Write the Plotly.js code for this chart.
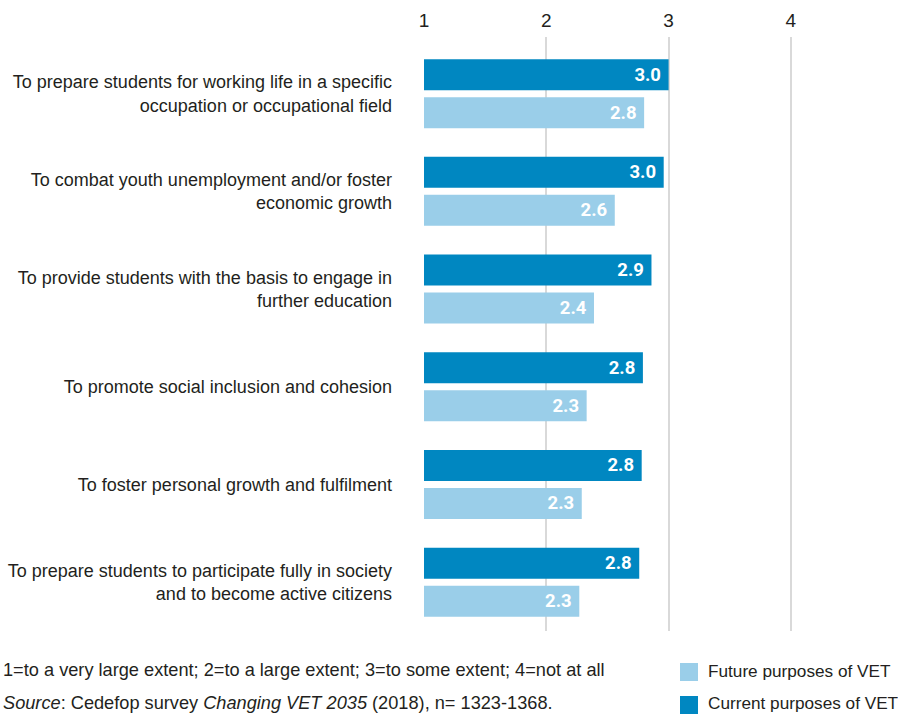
<!DOCTYPE html>
<html>
<head>
<meta charset="utf-8">
<script src="https://cdn.plot.ly/plotly-3.0.1.min.js"></script>
<style>html,body{margin:0;padding:0;background:#fff;}#chart{width:898px;height:714px;}</style>
</head>
<body>
<div id="chart"></div>
<script>
const categories = [
  "To prepare students for working life in a specific<br>occupation or occupational field",
  "To combat youth unemployment and/or foster<br>economic growth",
  "To provide students with the basis to engage in<br>further education",
  "To promote social inclusion and cohesion",
  "To foster personal growth and fulfilment",
  "To prepare students to participate fully in society<br>and to become active citizens"
];
const currentValues = [3.00, 2.96, 2.86, 2.79, 2.78, 2.76];
const futureValues  = [2.80, 2.56, 2.39, 2.33, 2.29, 2.27];
const xTicks = [1, 2, 3, 4];
const seriesNames = ["Current purposes of VET", "Future purposes of VET"];
const noteText = "1=to a very large extent; 2=to a large extent; 3=to some extent; 4=not at all";
const sourceText = "<i>Source</i>: Cedefop survey <i>Changing VET 2035</i> (2018), n= 1323-1368.";

const cCurrent = "#0087c1";
const cFuture = "#9acee9";
const txt = "#231f20";
const sans = "Liberation Sans, Arial, sans-serif";

const barText = {family: "Roboto, sans-serif", size: 18.5, color: "#ffffff", weight: "bold"};

const traces = [
  {type: "bar", orientation: "h", name: seriesNames[0], y: categories.map((c, i) => i), x: currentValues,
   marker: {color: cCurrent}, texttemplate: "%{x:.1f}\u00a0", textposition: "inside", insidetextanchor: "end",
   textfont: barText, showlegend: false, hoverinfo: "x+name"},
  {type: "bar", orientation: "h", name: seriesNames[1], y: categories.map((c, i) => i), x: futureValues,
   marker: {color: cFuture}, texttemplate: "%{x:.1f}\u00a0", textposition: "inside", insidetextanchor: "end",
   textfont: barText, showlegend: false, hoverinfo: "x+name"}
];

const W = 373, H = 594, L = 424, T = 37;
const px = x => (x - L) / W;
const py = y => (T + H - y) / H;

const layout = {
  width: 898, height: 714,
  margin: {l: L, r: 898 - L - W, t: T, b: 714 - T - H, pad: 0},
  paper_bgcolor: "#ffffff", plot_bgcolor: "#ffffff",
  barmode: "group", bargap: 0.222, bargroupgap: 0.184,
  showlegend: false,
  font: {family: sans, color: txt, size: 18},
  xaxis: {
    side: "top", range: [1, 4.05], tickvals: xTicks, ticktext: xTicks.map(String),
    showgrid: true, gridcolor: "#d9d9d9", gridwidth: 2, zeroline: false, showline: false,
    ticks: "", ticklabelstandoff: 5, tickfont: {family: sans, size: 19, color: txt}, fixedrange: true
  },
  yaxis: {
    range: [5.5, -0.58], tickvals: categories.map((c, i) => i), ticktext: categories,
    showgrid: false, zeroline: false, showline: false, ticks: "", ticklabelstandoff: 31,
    tickfont: {family: sans, size: 18, color: txt}, fixedrange: true
  },
  shapes: [
    {type: "rect", xref: "paper", yref: "paper", x0: px(680), x1: px(698), y0: py(663), y1: py(681),
     fillcolor: cFuture, line: {width: 0}},
    {type: "rect", xref: "paper", yref: "paper", x0: px(680), x1: px(698), y0: py(696), y1: py(714),
     fillcolor: cCurrent, line: {width: 0}}
  ],
  annotations: [
    {xref: "paper", yref: "paper", x: px(1), y: py(670), xanchor: "left", yanchor: "middle",
     text: noteText, showarrow: false, font: {family: sans, size: 18.2, color: txt}},
    {xref: "paper", yref: "paper", x: px(1), y: py(703), xanchor: "left", yanchor: "middle",
     text: sourceText, showarrow: false, font: {family: sans, size: 18.2, color: txt}},
    {xref: "paper", yref: "paper", x: px(706), y: py(671), xanchor: "left", yanchor: "middle",
     text: seriesNames[1], showarrow: false, font: {family: sans, size: 17.2, color: txt}},
    {xref: "paper", yref: "paper", x: px(706), y: py(703), xanchor: "left", yanchor: "middle",
     text: seriesNames[0], showarrow: false, font: {family: sans, size: 17.2, color: txt}}
  ]
};

Plotly.newPlot("chart", traces, layout, {displayModeBar: false, staticPlot: true});
</script>
</body>
</html>
